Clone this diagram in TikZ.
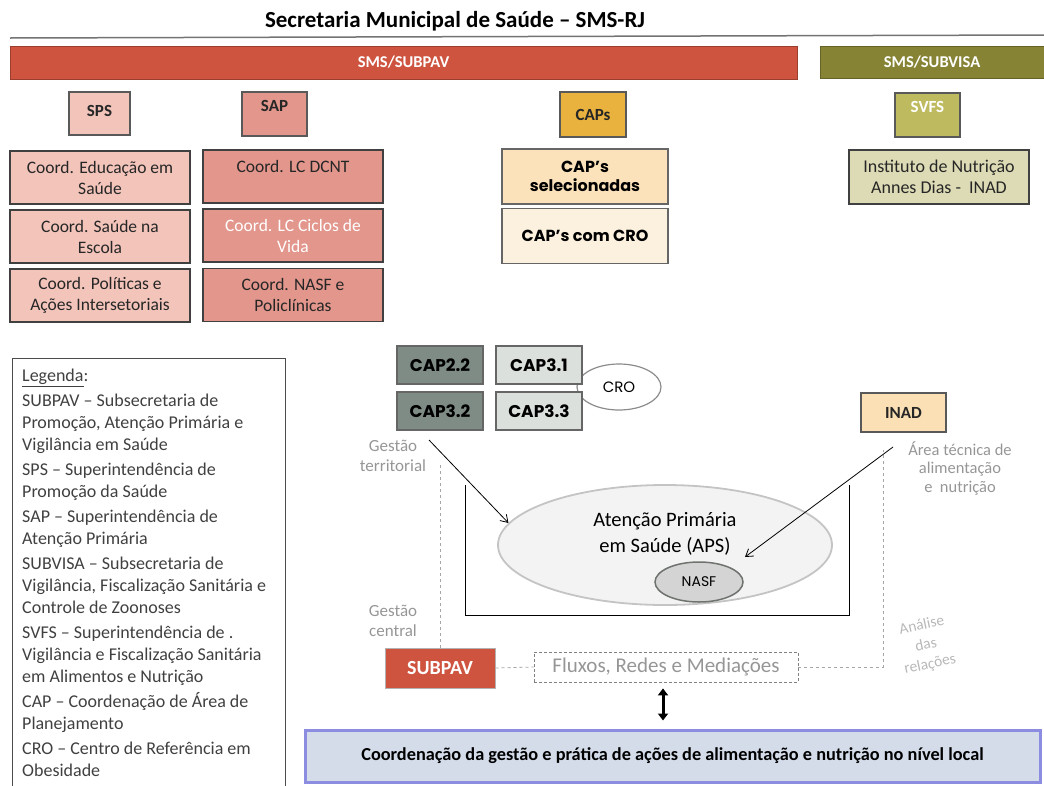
\documentclass[tikz,border=0pt]{standalone}
\usepackage{fontspec}
\setmainfont{Carlito}
\newfontfamily\gothic{Poppins}
\usetikzlibrary{arrows.meta,shapes.geometric}
\definecolor{subpavred}{RGB}{206,84,64}
\definecolor{subvisaolive}{RGB}{134,132,52}
\definecolor{spspink}{RGB}{242,196,186}
\definecolor{sappink}{RGB}{226,150,140}
\definecolor{capsorange}{RGB}{233,178,62}
\definecolor{svfsolive}{RGB}{190,186,95}
\definecolor{capselfill}{RGB}{251,226,186}
\definecolor{capcrofill}{RGB}{252,240,222}
\definecolor{instfill}{RGB}{221,219,181}
\definecolor{capdark}{RGB}{127,140,134}
\definecolor{caplight}{RGB}{220,224,220}
\definecolor{inadfill}{RGB}{250,224,180}
\definecolor{apsfill}{RGB}{243,243,243}
\definecolor{apsdraw}{RGB}{196,196,196}
\definecolor{nasffill}{RGB}{212,212,212}
\definecolor{nasfdraw}{RGB}{110,115,110}
\definecolor{botdraw}{RGB}{140,140,225}
\definecolor{botfill}{RGB}{212,220,234}
\definecolor{legtext}{RGB}{64,64,64}
\definecolor{softgray}{RGB}{150,150,150}

\begin{document}
\begin{tikzpicture}[x=1pt, y=-1pt,
    bar/.style={draw=#1!75!black, fill=#1, text=white, line width=1pt,
      font=\fontsize{16.5}{19}\selectfont\bfseries},
    unit/.style={draw=black!65, line width=1.2pt, text=black!85,
      font=\fontsize{17}{19}\selectfont\bfseries},
    coord/.style={draw=black!75, line width=1.2pt, minimum width=180,
      minimum height=53, align=center, text=black!85,
      font=\fontsize{17.5}{21}\selectfont},
    capbox/.style={draw=black!60, line width=1.5pt, minimum width=166,
      minimum height=55, align=center,
      font=\gothic\bfseries\fontsize{16}{19}\selectfont},
    capnum/.style={draw=black!60, line width=1.2pt, minimum width=86,
      minimum height=38, font=\gothic\bfseries\fontsize{17}{19}\selectfont},
    note/.style={text=softgray, align=center, font=\fontsize{17}{20}\selectfont},
    link/.style={dashed, draw=black!35, line width=.8pt},
    tip/.style={-{Straight Barb[length=7pt,width=9pt]}, line width=.8pt}]
  \useasboundingbox (0,0) rectangle (1044,785);

  % title and rule
  \node[font=\fontsize{23}{26}\selectfont\bfseries] (title) at (455,21)
    {Secretaria Municipal de Saúde -- SMS-RJ};
  \draw[black!55, line width=1.5pt] (10,38) -- (1044,35);

  % top bars
  \node[bar=subpavred, minimum width=787, minimum height=33] (subpav) at (403.5,62.5) {SMS/SUBPAV};
  \node[bar=subvisaolive, minimum width=224, minimum height=32] (subvisa) at (932,62) {SMS/SUBVISA};

  \node[unit, fill=spspink, minimum width=61, minimum height=43, text depth=6pt] (sps) at (99.5,113.5) {SPS};
  \node[unit, fill=sappink, minimum width=65, minimum height=44, text depth=16pt] (sap) at (274.5,114) {SAP};
  \node[unit, fill=capsorange, minimum width=66, minimum height=45] (caps) at (593,114.5) {CAPs};
  \node[unit, fill=svfsolive, text=white, minimum width=65, minimum height=44, text depth=16pt] (svfs) at (927.5,115) {SVFS};

  % coordinations
  \node[coord, fill=spspink] (edu) at (100,177.5) {Coord. Educação em\\Saúde};
  \node[coord, fill=spspink] (escola) at (100,236.5) {Coord. Saúde na\\Escola};
  \node[coord, fill=spspink] (polit) at (100,295.5) {Coord. Políticas e\\Ações Intersetoriais};
  \node[coord, fill=sappink] (dcnt) at (293,176.5) {Coord. LC DCNT\\\mbox{}};
  \node[coord, fill=sappink, text=white] (ciclos) at (293,235.5) {Coord. LC Ciclos de\\Vida};
  \node[coord, fill=sappink] (nasfpol) at (293,295) {Coord. NASF e\\Policlínicas};

  \node[capbox, fill=capselfill] (capsel) at (585,176.5) {CAP’s\\selecionadas};
  \node[capbox, fill=capcrofill] (capcro) at (585,236) {CAP’s com CRO};
  \node[coord, fill=instfill, minimum height=54, font=\fontsize{18}{21}\selectfont] (inst) at (939,177)
    {Instituto de Nutrição\\Annes Dias -\ \ INAD};

  % legend
  \draw[black!70, line width=1pt] (12,790) -- (12,358) -- (285,358) -- (285,790);
  \node[anchor=north west, align=left, text=legtext, inner sep=0pt,
    font=\fontsize{18}{22}\selectfont] (legend) at (22,369)
    {\underline{Legenda}:\\[3pt]
     SUBPAV -- Subsecretaria de\\Promoção, Atenção Primária e\\Vigilância em Saúde\\[3pt]
     SPS -- Superintendência de\\Promoção da Saúde\\[3pt]
     SAP -- Superintendência de\\Atenção Primária\\[3pt]
     SUBVISA -- Subsecretaria de\\Vigilância, Fiscalização Sanitária e\\Controle de Zoonoses\\[3pt]
     SVFS -- Superintendência de .\\Vigilância e Fiscalização Sanitária\\em Alimentos e Nutrição\\[3pt]
     CAP -- Coordenação de Área de\\Planejamento\\[3pt]
     CRO -- Centro de Referência em\\Obesidade};

  % territorial level
  \node[ellipse, draw=black!45, line width=1.2pt, fill=white, minimum width=84, minimum height=46,
    font=\gothic\fontsize{15}{17}\selectfont] (cro) at (619,387) {CRO};
  \node[capnum, fill=capdark] (cap22) at (440,365) {CAP2.2};
  \node[capnum, fill=caplight] (cap31) at (539,365) {CAP3.1};
  \node[capnum, fill=capdark] (cap32) at (440,411) {CAP3.2};
  \node[capnum, fill=caplight] (cap33) at (539,411) {CAP3.3};
  \node[unit, fill=inadfill, minimum width=85, minimum height=39] (inad) at (903.5,412.5) {INAD};

  \node[note] (gestterr) at (393,456) {Gestão\\territorial};
  \node[note] (gestcent) at (393,621) {Gestão\\central};
  \node[note, font=\fontsize{16.5}{18.5}\selectfont] (areatec) at (960,468) {Área técnica de\\alimentação\\e\ \ nutrição};
  \node[note, text=black!28, rotate=12, font=\fontsize{15.5}{20}\selectfont] (analise) at (926,645) {Análise\\das\\relações};

  \draw[line width=1pt] (465,485) |- (849,615) -- (849,485);
  \node[ellipse, draw=apsdraw, line width=1.8pt, fill=apsfill, minimum width=334, minimum height=120,
    align=center, font=\fontsize{20.5}{26}\selectfont] (aps) at (665,545)
    {Atenção Primária\\em Saúde (APS)\\\mbox{}};
  \node[ellipse, draw=nasfdraw, line width=1.5pt, fill=nasffill, minimum width=88, minimum height=40,
    font=\gothic\fontsize{14}{16}\selectfont] (nasf) at (699,582) {NASF};

  % central level
  \node[fill=subpavred, draw=black!30, line width=1pt, text=white, minimum width=110, minimum height=40,
    font=\fontsize{20}{22}\selectfont\bfseries] (subpavc) at (440,668) {SUBPAV};
  \node[draw=black!50, densely dashed, line width=.8pt, minimum width=264, minimum height=30,
    text=softgray, font=\fontsize{21}{23}\selectfont] (fluxos) at (666,667) {Fluxos, Redes e Mediações};
  \node[draw=botdraw, line width=3pt, fill=botfill, minimum width=735, minimum height=52,
    font=\fontsize{18.3}{20}\selectfont\bfseries] (coordbot) at (672.5,756)
    {Coordenação da gestão e prática de ações de alimentação e nutrição no nível local};

  \coordinate (ltop) at (440,462);
  \coordinate (rtop) at (883,450);
  \coordinate (terr) at (429,440);
  \coordinate (nutr) at (893,447);
  \coordinate (nasftip) at (745,557);

  \draw[link] (subpavc.north) -- (ltop);
  \draw[link] (subpavc.east) -- (fluxos.west);
  \draw[link] (fluxos.east) -| (rtop);
  \draw[tip] (terr) -- (aps.172);
  \draw[tip] (nutr) -- (nasftip);
  \draw[{Triangle[length=7pt,width=10pt]}-{Triangle[length=7pt,width=10pt]}, line width=3pt,
    shorten <=6pt, shorten >=8pt] (fluxos.south -| 663,0) -- (coordbot.north -| 663,0);
\end{tikzpicture}
\end{document}
